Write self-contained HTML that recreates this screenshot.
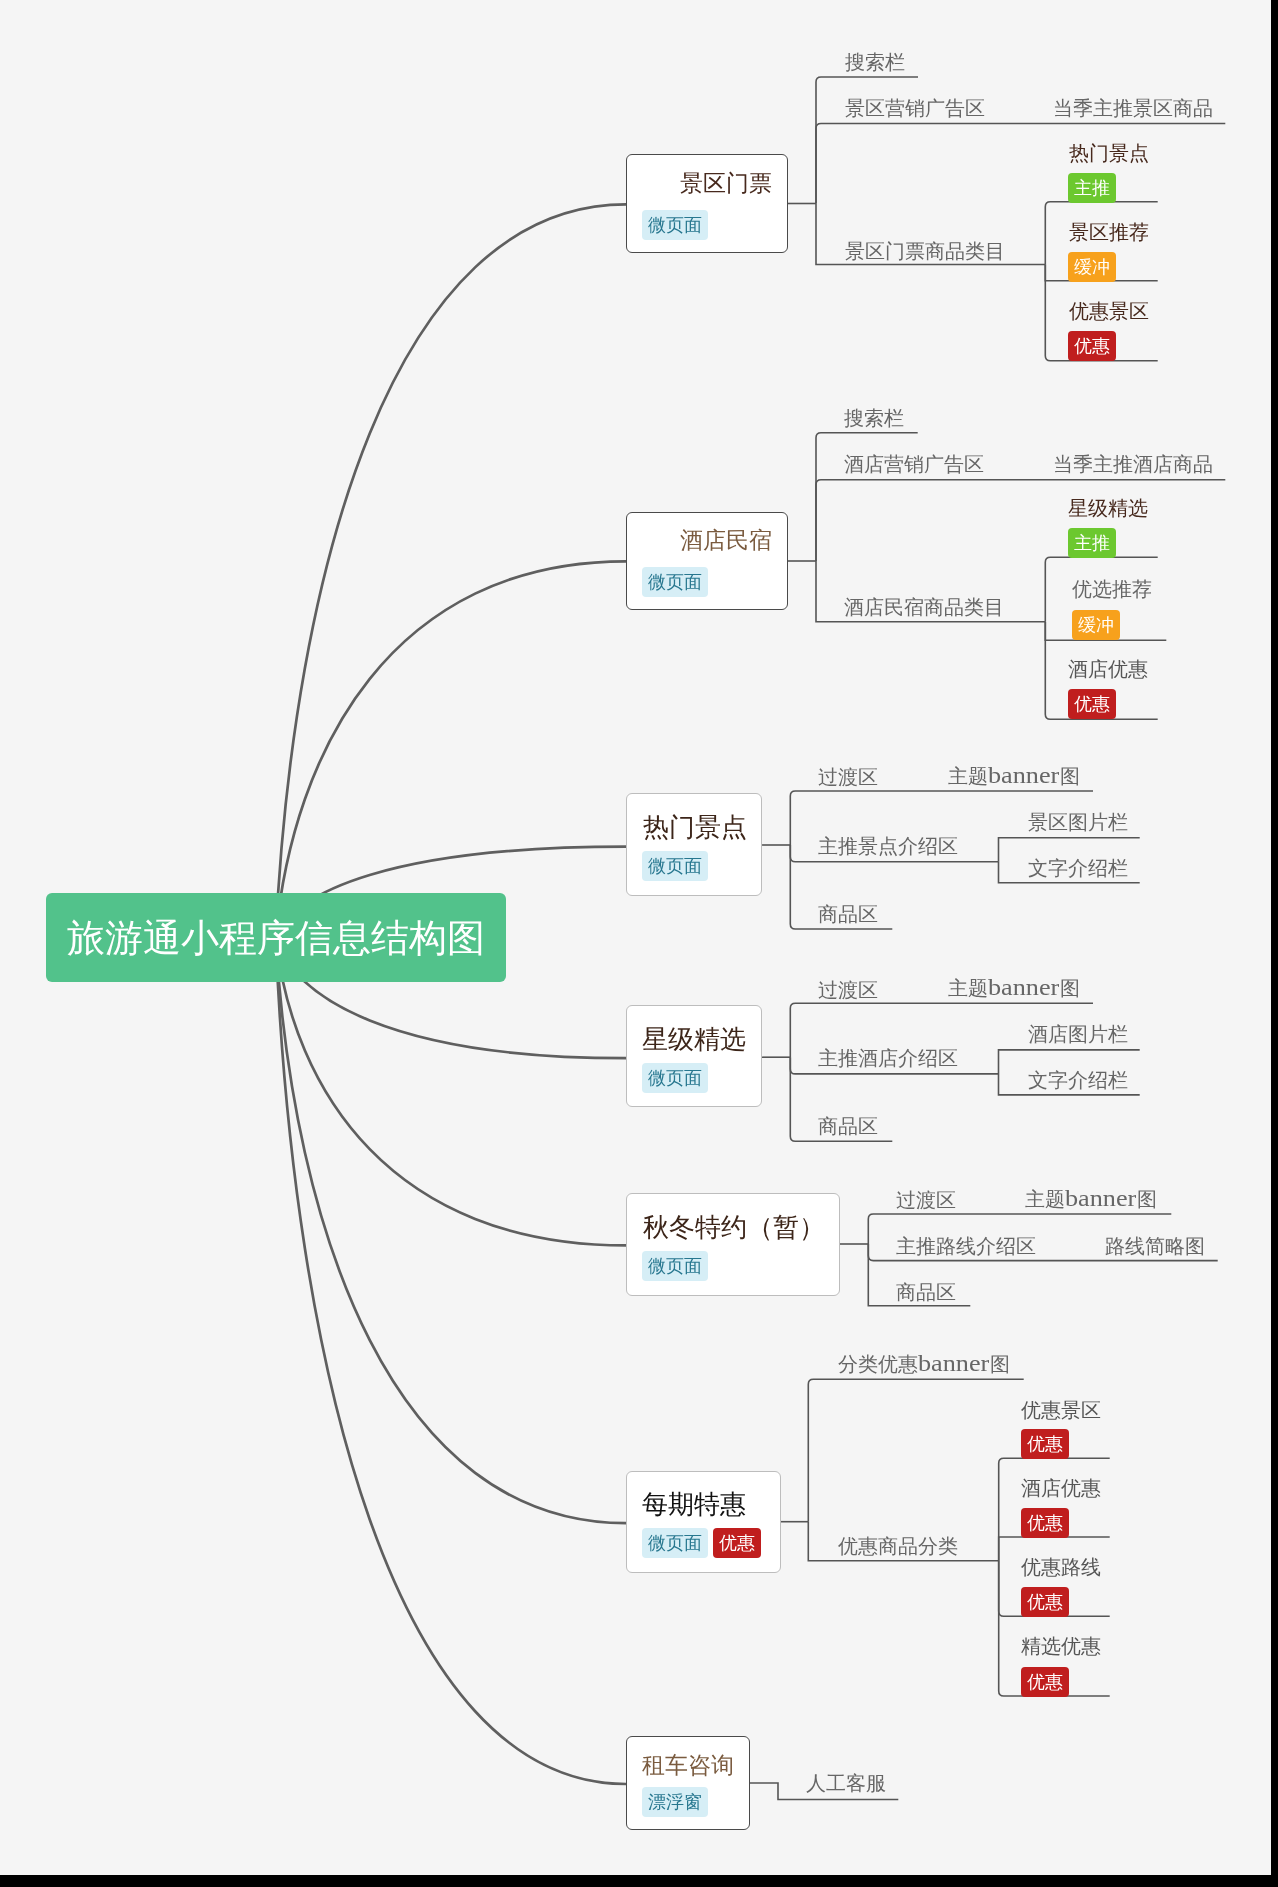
<!DOCTYPE html><html><head><meta charset="utf-8"><style>
html,body{margin:0;padding:0;width:1278px;height:1887px;overflow:hidden;background:#000}
#c{position:absolute;left:0;top:0;width:1271px;height:1875px;background:#f5f5f5;overflow:hidden}
.t{position:absolute;will-change:transform;font-family:"Liberation Sans",sans-serif;line-height:1;white-space:nowrap}
.sf{display:inline-block;width:71.5px;font-family:'Liberation Serif',serif;font-size:23px;transform:scaleX(1.14);transform-origin:0 0}
.b{position:absolute;box-sizing:border-box;background:#fff;border:1px solid;border-radius:6px}
.g{position:absolute;height:30px;border-radius:4px}
svg{position:absolute;left:0;top:0}
</style></head><body><div id="c">
<svg width="1278" height="1887" viewBox="0 0 1278 1887">
<g fill="none" stroke="#5f5f5f" stroke-width="2.7"><path d="M275.6 937.4C293.1 570.9 392.3 204.4 626 204.4"/><path d="M275.6 937.4C293.1 749.3 392.3 561.3 626 561.3"/><path d="M275.6 937.4C293.1 892.0 392.3 846.6 626 846.6"/><path d="M275.6 937.4C293.1 997.8 392.3 1058.2 626 1058.2"/><path d="M275.6 937.4C293.1 1091.4 392.3 1245.4 626 1245.4"/><path d="M275.6 937.4C293.1 1230.3 392.3 1523.2 626 1523.2"/><path d="M275.6 937.4C293.1 1360.7 392.3 1784.0 626 1784.0"/></g>
<g fill="none" stroke="#555555" stroke-width="1.6"><path d="M788 203.5H816"/><path d="M816 203.5V82Q816 77 821 77H918"/><path d="M816 203.5V128.5Q816 123.5 821 123.5H1225.3"/><path d="M816 203.5V264.5H1045.3"/><path d="M1045.3 264.5V206.7Q1045.3 201.7 1050.3 201.7H1157.7"/><path d="M1045.3 264.5V280.7H1157.7"/><path d="M1045.3 264.5V355.7Q1045.3 360.7 1050.3 360.7H1157.7"/><path d="M788 561H816"/><path d="M816 561V437.7Q816 432.7 821 432.7H917.7"/><path d="M816 561V484.7Q816 479.7 821 479.7H1225.3"/><path d="M816 561V621.7H1045.3"/><path d="M1045.3 621.7V562.3Q1045.3 557.3 1050.3 557.3H1157.7"/><path d="M1045.3 621.7V640.2H1166.3"/><path d="M1045.3 621.7V714.3Q1045.3 719.3 1050.3 719.3H1157.7"/><path d="M762 845H790.3"/><path d="M790.3 845V796Q790.3 791 795.3 791H1093"/><path d="M790.3 845V856.7Q790.3 861.7 795.3 861.7H998.5"/><path d="M998.5 861.7V837.7H1139.7"/><path d="M998.5 861.7V882.7H1139.7"/><path d="M790.3 845V924Q790.3 929 795.3 929H892.3"/><path d="M762 1057.2H790.3"/><path d="M790.3 1057.2V1008.2Q790.3 1003.2 795.3 1003.2H1093"/><path d="M790.3 1057.2V1068.9Q790.3 1073.9 795.3 1073.9H998.5"/><path d="M998.5 1073.9V1049.9H1139.7"/><path d="M998.5 1073.9V1094.9H1139.7"/><path d="M790.3 1057.2V1136.2Q790.3 1141.2 795.3 1141.2H892.3"/><path d="M839.5 1244H868.3"/><path d="M868.3 1244V1219Q868.3 1214 873.3 1214H1171.3"/><path d="M868.3 1244V1255.6Q868.3 1260.6 873.3 1260.6H1217.7"/><path d="M868.3 1244V1305.7H970.3"/><path d="M780.5 1521.7H808.3"/><path d="M808.3 1521.7V1384.3Q808.3 1379.3 813.3 1379.3H1023.7"/><path d="M808.3 1521.7V1560.7H998.7"/><path d="M998.7 1560.7V1463.3Q998.7 1458.3 1003.7 1458.3H1109.7"/><path d="M998.7 1560.7V1537H1109.7"/><path d="M998.7 1560.7V1611.3Q998.7 1616.3 1003.7 1616.3H1109.7"/><path d="M998.7 1560.7V1691Q998.7 1696 1003.7 1696H1109.7"/><path d="M749.5 1783H778V1799.5H898.3"/></g>
</svg>
<div style="position:absolute;left:46px;top:893px;width:460px;height:89px;background:#52c28b;border-radius:6px"></div>
<div class="t" style="left:67px;top:919px;font-size:38px;color:#fff">旅游通小程序信息结构图</div>
<div class="b" style="left:626px;top:154px;width:162px;height:99px;border-color:#4a4a4a"></div>
<div class="t" style="left:679.5px;top:172px;font-size:23px;color:#47291d">景区门票</div>
<div class="b" style="left:626px;top:511.5px;width:162px;height:98.5px;border-color:#4a4a4a"></div>
<div class="t" style="left:680.0px;top:529px;font-size:23px;color:#7a5b3f">酒店民宿</div>
<div class="b" style="left:626px;top:793px;width:136px;height:103px;border-color:#bdbdbd"></div>
<div class="t" style="left:642.7px;top:814px;font-size:26px;color:#3c2519">热门景点</div>
<div class="b" style="left:626px;top:1005.2px;width:136px;height:101.5px;border-color:#bdbdbd"></div>
<div class="t" style="left:641.7px;top:1026px;font-size:26px;color:#3c2519">星级精选</div>
<div class="b" style="left:626px;top:1193px;width:213.5px;height:103px;border-color:#bdbdbd"></div>
<div class="t" style="left:642.7px;top:1214px;font-size:26px;color:#3c2519">秋冬特约（暂）</div>
<div class="b" style="left:626px;top:1470.5px;width:154.5px;height:102px;border-color:#bdbdbd"></div>
<div class="t" style="left:642.0px;top:1491px;font-size:26px;color:#111111">每期特惠</div>
<div class="b" style="left:626px;top:1736px;width:123.5px;height:93.5px;border-color:#4a4a4a"></div>
<div class="t" style="left:642.0px;top:1754px;font-size:23px;color:#7a5b3f">租车咨询</div>
<div class="g" style="left:1068px;top:173px;width:48px;background:#6cc82f"></div>
<div class="t" style="left:1074px;top:179px;font-size:18px;color:#ffffff">主推</div>
<div class="g" style="left:1068px;top:251.5px;width:48px;background:#f7a11c"></div>
<div class="t" style="left:1074px;top:258px;font-size:18px;color:#ffffff">缓冲</div>
<div class="g" style="left:1068px;top:330.7px;width:48px;background:#c01e1e"></div>
<div class="t" style="left:1074px;top:337px;font-size:18px;color:#ffffff">优惠</div>
<div class="g" style="left:1068px;top:528px;width:48px;background:#6cc82f"></div>
<div class="t" style="left:1074px;top:534px;font-size:18px;color:#ffffff">主推</div>
<div class="g" style="left:1072px;top:609.5px;width:48px;background:#f7a11c"></div>
<div class="t" style="left:1078px;top:616px;font-size:18px;color:#ffffff">缓冲</div>
<div class="g" style="left:1068px;top:689px;width:48px;background:#c01e1e"></div>
<div class="t" style="left:1074px;top:695px;font-size:18px;color:#ffffff">优惠</div>
<div class="g" style="left:1021px;top:1429.0px;width:48px;background:#c01e1e"></div>
<div class="t" style="left:1027px;top:1435px;font-size:18px;color:#ffffff">优惠</div>
<div class="g" style="left:1021px;top:1507.7px;width:48px;background:#c01e1e"></div>
<div class="t" style="left:1027px;top:1514px;font-size:18px;color:#ffffff">优惠</div>
<div class="g" style="left:1021px;top:1587.0px;width:48px;background:#c01e1e"></div>
<div class="t" style="left:1027px;top:1593px;font-size:18px;color:#ffffff">优惠</div>
<div class="g" style="left:1021px;top:1666.7px;width:48px;background:#c01e1e"></div>
<div class="t" style="left:1027px;top:1673px;font-size:18px;color:#ffffff">优惠</div>
<div class="g" style="left:642px;top:210px;width:66px;background:#d6eef6"></div>
<div class="t" style="left:648px;top:216px;font-size:18px;color:#27778f">微页面</div>
<div class="g" style="left:642px;top:567.3px;width:66px;background:#d6eef6"></div>
<div class="t" style="left:648px;top:573px;font-size:18px;color:#27778f">微页面</div>
<div class="g" style="left:642px;top:851px;width:66px;background:#d6eef6"></div>
<div class="t" style="left:648px;top:857px;font-size:18px;color:#27778f">微页面</div>
<div class="g" style="left:642px;top:1063.3px;width:66px;background:#d6eef6"></div>
<div class="t" style="left:648px;top:1069px;font-size:18px;color:#27778f">微页面</div>
<div class="g" style="left:642px;top:1251px;width:66px;background:#d6eef6"></div>
<div class="t" style="left:648px;top:1257px;font-size:18px;color:#27778f">微页面</div>
<div class="g" style="left:642px;top:1528.3px;width:66px;background:#d6eef6"></div>
<div class="t" style="left:648px;top:1534px;font-size:18px;color:#27778f">微页面</div>
<div class="g" style="left:713.3px;top:1528.3px;width:48px;background:#c01e1e"></div>
<div class="t" style="left:719.3px;top:1534px;font-size:18px;color:#ffffff">优惠</div>
<div class="g" style="left:642px;top:1787px;width:66px;background:#d6eef6"></div>
<div class="t" style="left:648px;top:1793px;font-size:18px;color:#27778f">漂浮窗</div>
<div class="t" style="left:845px;top:52px;font-size:20px;color:#666666">搜索栏</div>
<div class="t" style="left:845px;top:98px;font-size:20px;color:#666666">景区营销广告区</div>
<div class="t" style="left:1053px;top:98px;font-size:20px;color:#666666">当季主推景区商品</div>
<div class="t" style="left:845px;top:241px;font-size:20px;color:#666666">景区门票商品类目</div>
<div class="t" style="left:1069px;top:143px;font-size:20px;color:#47291d">热门景点</div>
<div class="t" style="left:1069px;top:222px;font-size:20px;color:#47291d">景区推荐</div>
<div class="t" style="left:1069px;top:301px;font-size:20px;color:#47291d">优惠景区</div>
<div class="t" style="left:844px;top:408px;font-size:20px;color:#666666">搜索栏</div>
<div class="t" style="left:844px;top:454px;font-size:20px;color:#666666">酒店营销广告区</div>
<div class="t" style="left:1053px;top:454px;font-size:20px;color:#666666">当季主推酒店商品</div>
<div class="t" style="left:844px;top:597px;font-size:20px;color:#666666">酒店民宿商品类目</div>
<div class="t" style="left:1068px;top:498px;font-size:20px;color:#47291d">星级精选</div>
<div class="t" style="left:1072px;top:579px;font-size:20px;color:#666666">优选推荐</div>
<div class="t" style="left:1068px;top:659px;font-size:20px;color:#555555">酒店优惠</div>
<div class="t" style="left:818px;top:767px;font-size:20px;color:#666666">过渡区</div>
<div class="t" style="left:948px;top:764px;font-size:20px;color:#666666">主题<span class="sf">banner</span>图</div>
<div class="t" style="left:818px;top:836px;font-size:20px;color:#666666">主推景点介绍区</div>
<div class="t" style="left:1028px;top:812px;font-size:20px;color:#666666">景区图片栏</div>
<div class="t" style="left:1028px;top:858px;font-size:20px;color:#666666">文字介绍栏</div>
<div class="t" style="left:818px;top:904px;font-size:20px;color:#666666">商品区</div>
<div class="t" style="left:818px;top:980px;font-size:20px;color:#666666">过渡区</div>
<div class="t" style="left:948px;top:976px;font-size:20px;color:#666666">主题<span class="sf">banner</span>图</div>
<div class="t" style="left:818px;top:1048px;font-size:20px;color:#666666">主推酒店介绍区</div>
<div class="t" style="left:1028px;top:1024px;font-size:20px;color:#666666">酒店图片栏</div>
<div class="t" style="left:1028px;top:1070px;font-size:20px;color:#666666">文字介绍栏</div>
<div class="t" style="left:818px;top:1116px;font-size:20px;color:#666666">商品区</div>
<div class="t" style="left:896px;top:1190px;font-size:20px;color:#666666">过渡区</div>
<div class="t" style="left:1025px;top:1187px;font-size:20px;color:#666666">主题<span class="sf">banner</span>图</div>
<div class="t" style="left:896px;top:1236px;font-size:20px;color:#666666">主推路线介绍区</div>
<div class="t" style="left:1105px;top:1236px;font-size:20px;color:#666666">路线简略图</div>
<div class="t" style="left:896px;top:1282px;font-size:20px;color:#666666">商品区</div>
<div class="t" style="left:838px;top:1352px;font-size:20px;color:#666666">分类优惠<span class="sf">banner</span>图</div>
<div class="t" style="left:838px;top:1536px;font-size:20px;color:#666666">优惠商品分类</div>
<div class="t" style="left:1021px;top:1400px;font-size:20px;color:#555555">优惠景区</div>
<div class="t" style="left:1021px;top:1478px;font-size:20px;color:#555555">酒店优惠</div>
<div class="t" style="left:1021px;top:1557px;font-size:20px;color:#555555">优惠路线</div>
<div class="t" style="left:1021px;top:1636px;font-size:20px;color:#555555">精选优惠</div>
<div class="t" style="left:806px;top:1773px;font-size:20px;color:#666666">人工客服</div>
</div></body></html>
